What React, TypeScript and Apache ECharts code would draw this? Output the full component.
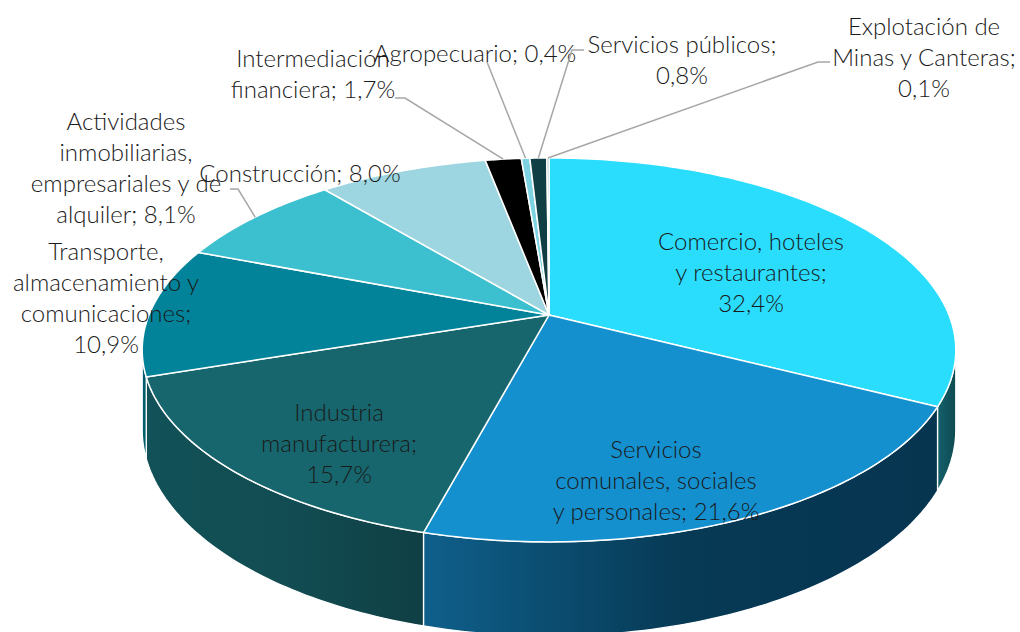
import React, { useEffect, useRef } from "react";
import * as echarts from "echarts";

// ---- data ----
const categories = [
  "Comercio, hoteles\ny restaurantes",
  "Servicios\ncomunales, sociales\ny personales",
  "Industria\nmanufacturera",
  "Transporte,\nalmacenamiento y\ncomunicaciones",
  "Actividades\ninmobiliarias,\nempresariales y de\nalquiler",
  "Construcción",
  "Intermediación\nfinanciera",
  "Agropecuario",
  "Servicios públicos",
  "Explotación de\nMinas y Canteras",
];
const values = [32.4, 21.6, 15.7, 10.9, 8.1, 8.0, 1.7, 0.4, 0.8, 0.1];
const labelSeparators = [";\n", "; ", ";\n", ";\n", "; ", "; ", "; ", "; ", ";\n", ";\n"];

// ---- styles / layout ----
const topColors = [
  "#2ADDFD", "#1590CF", "#17666D", "#02839A", "#3CBFCE",
  "#9DD6E0", "#000000", "#7ED3E3", "#0F3E44", "#7F9FA4",
];
const sideColors: string[][] = [
  ["#14606B", "#0E4A52"],
  ["#0F5F8B", "#073A55", "#063550"],
  ["#115157", "#124D53", "#0F3F44"],
  ["#015C6C", "#015C6C"],
  ["#2A8A96", "#2A8A96"],
  ["#7099A0", "#7099A0"],
  ["#000000", "#000000"],
  ["#5A98A4", "#5A98A4"],
  ["#0A2C30", "#0A2C30"],
  ["#5A7074", "#5A7074"],
];
// center of first label line
const labelCenters = [
  [751, 240], [656, 448], [339, 411], [106, 250], [126, 120],
  [300, 172], [313, 57], [475, 52], [682, 43], [924, 25],
];
// leader polylines from label towards slice (end point computed from the slice)
const leaderStarts: (number[][] | null)[] = [
  null, null, null, null,
  [[230, 189], [238, 189]],
  null,
  [[395, 98], [405, 98]],
  [[487, 62]],
  [[584, 50], [572, 50]],
  [[830, 62], [818, 62]],
];

const GEO = { cx: 549, cy: 315, a: 400, b: 185.6, k: 0.182, depth: 77 };
const FONT_SIZE = 24;
const LINE_H = 31;

function proj(phi: number, dy = 0): number[] {
  const X = Math.sin(phi);
  const Z = -Math.cos(phi);
  const s = 1 / (1 - GEO.k * Z);
  return [GEO.cx + GEO.a * X * s, GEO.cy + GEO.b * Z * s + dy * s];
}

function fmt(v: number) {
  return v.toFixed(1).replace(".", ",") + "%";
}

const total = values.reduce((s, v) => s + v, 0);
function sliceAngles(i: number) {
  let c = 0;
  for (let j = 0; j < i; j++) c += values[j];
  const a0 = (c / total) * Math.PI * 2;
  const a1 = ((c + values[i]) / total) * Math.PI * 2;
  return [a0, a1];
}

function arcPoints(a0: number, a1: number, dy = 0) {
  const pts: number[][] = [];
  const n = Math.max(2, Math.ceil(((a1 - a0) * 180) / Math.PI));
  for (let t = 0; t <= n; t++) pts.push(proj(a0 + ((a1 - a0) * t) / n, dy));
  return pts;
}

const VIS0 = Math.acos(-GEO.k);
const VIS1 = Math.PI * 2 - VIS0;

export default function App() {
  const ref = useRef<HTMLDivElement>(null);
  useEffect(() => {
    const chart = echarts.init(ref.current!, null, { renderer: "svg" });
    const data = values.map((v, i) => ({ name: categories[i], value: v }));

    const sideItem = (params: any) => {
      const i = params.dataIndex;
      const [a0, a1] = sliceAngles(i);
      const s0 = Math.max(a0, VIS0);
      const s1 = Math.min(a1, VIS1);
      if (s1 <= s0) return null;
      const top = arcPoints(s0, s1, 0);
      const bot = arcPoints(s0, s1, GEO.depth).reverse();
      const cols = sideColors[i];
      return {
        type: "polygon",
        shape: { points: top.concat(bot) },
        style: {
          fill: new echarts.graphic.LinearGradient(
            0, 0, 1, 0,
            cols.map((c, k) => ({ offset: cols.length === 1 ? 0 : k / (cols.length - 1), color: c }))
          ),
          stroke: "#ffffff",
          lineWidth: 1.3,
        },
      };
    };

    const topItem = (params: any) => {
      const i = params.dataIndex;
      const [a0, a1] = sliceAngles(i);
      const pts = [[GEO.cx, GEO.cy]].concat(arcPoints(a0, a1, 0));
      return {
        type: "polygon",
        shape: { points: pts },
        style: { fill: topColors[i], stroke: "#ffffff", lineWidth: 1.5 },
      };
    };

    const labelItem = (params: any) => {
      const i = params.dataIndex;
      const [a0, a1] = sliceAngles(i);
      const children: any[] = [];
      const ls = leaderStarts[i];
      if (ls) {
        const end = proj((a0 + a1) / 2, 0);
        children.push({
          type: "polyline",
          shape: { points: ls.concat([end]) },
          style: { stroke: "#A6A6A6", lineWidth: 1.5, fill: null },
        });
      }
      const [lx, ly] = labelCenters[i];
      children.push({
        type: "text",
        x: lx,
        y: ly - LINE_H / 2,
        style: {
          text: categories[i] + labelSeparators[i] + fmt(values[i]),
          fill: "#1a1a1a",
          fontFamily: "Lato",
          fontWeight: 300,
          fontSize: FONT_SIZE,
          lineHeight: LINE_H,
          align: "center",
          verticalAlign: "top",
        },
      });
      return { type: "group", children };
    };

    chart.setOption({
      animation: false,
      backgroundColor: "#ffffff",
      series: [
        { type: "custom", coordinateSystem: "none", data, renderItem: sideItem, z: 1, silent: true },
        { type: "custom", coordinateSystem: "none", data, renderItem: topItem, z: 2, silent: true },
        { type: "custom", coordinateSystem: "none", data, renderItem: labelItem, z: 3, silent: true },
      ],
    });
    return () => chart.dispose();
  }, []);
  return (
    <div
      ref={ref}
      style={{ position: "absolute", left: 0, top: 0, width: 1020, height: 632 }}
    />
  );
}
